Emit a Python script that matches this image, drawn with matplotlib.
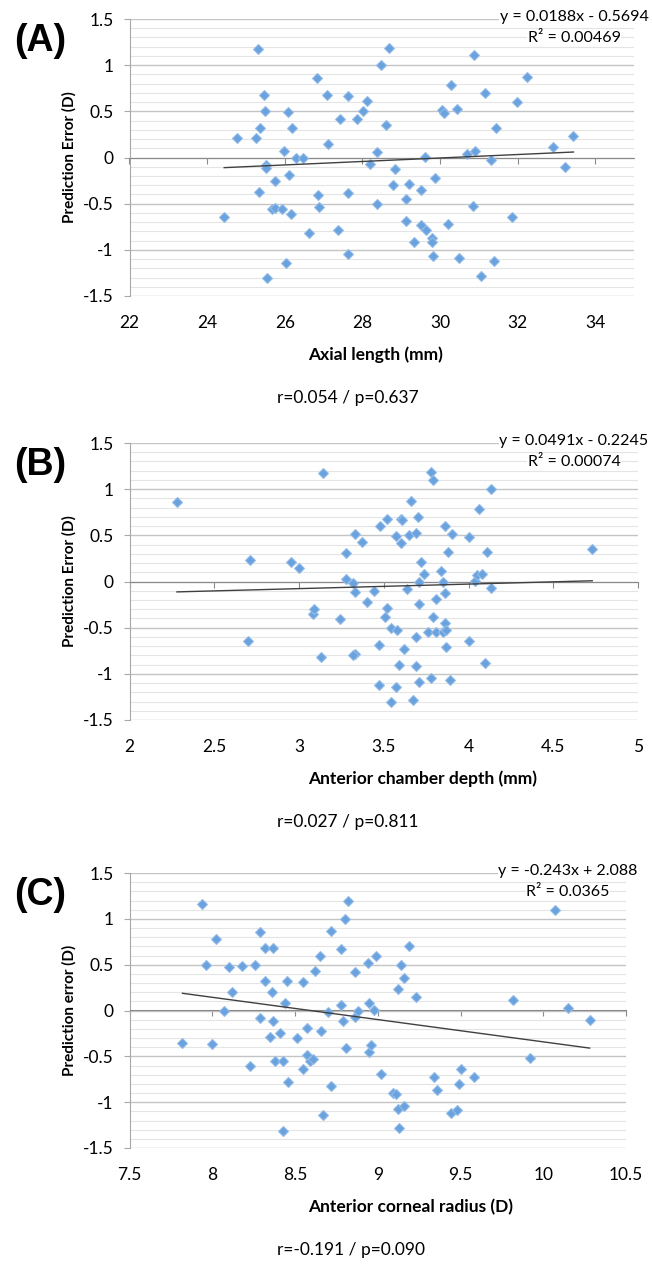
import numpy as np
import matplotlib
matplotlib.use('Agg')
import matplotlib.pyplot as plt
from matplotlib.ticker import MultipleLocator, FuncFormatter

plt.rcParams['font.family'] = ['Lato', 'DejaVu Sans']

# Данные
axial_length = [24.44, 24.78, 25.30, 25.27, 25.35, 25.34, 25.47, 25.48, 25.52, 25.51,
                25.54, 25.68, 25.74, 25.75, 25.94, 25.97, 26.03, 26.08, 26.12, 26.16,
                26.19, 26.30, 26.48, 26.62, 26.82, 26.86, 26.89, 27.09, 27.11, 27.36,
                27.42, 27.62, 27.62, 27.63, 27.85, 28.02, 28.11, 28.20, 28.38, 28.38,
                28.47, 28.61, 28.68, 28.79, 28.83, 29.12, 29.13, 29.21, 29.33, 29.52,
                29.52, 29.62, 29.65, 29.79, 29.79, 29.82, 29.87, 30.05, 30.10, 30.21,
                30.29, 30.43, 30.49, 30.69, 30.85, 30.88, 30.90, 31.07, 31.17, 31.31,
                31.39, 31.45, 31.85, 31.99, 32.23, 32.90, 33.22, 33.44]
error_a = [-0.645, 0.21, 1.17, 0.21, 0.32, -0.37, 0.68, 0.50, -0.08, -0.11,
           -1.31, -0.56, -0.55, -0.25, -0.56, 0.07, -1.14, 0.49, -0.19, -0.61,
           0.32, 0.0, 0.0, -0.82, 0.86, -0.41, -0.54, 0.68, 0.145, -0.78,
           0.42, -0.38, -1.05, 0.67, 0.42, 0.50, 0.61, -0.07, 0.06, -0.50,
           1.00, 0.355, 1.19, -0.30, -0.12, -0.445, -0.69, -0.29, -0.91, -0.35,
           -0.73, 0.007, -0.79, -0.87, -0.91, -1.07, -0.225, 0.51, 0.48, -0.72,
           0.78, 0.52, -1.09, 0.036, -0.525, 1.11, 0.07, -1.28, 0.70, -0.03,
           -1.12, 0.32, -0.64, 0.605, 0.87, 0.11, -0.10, 0.23]

acd = [2.28, 2.70, 2.71, 2.95, 3.00, 3.08, 3.09, 3.13, 3.14, 3.24,
       3.28, 3.28, 3.32, 3.33, 3.33, 3.33, 3.32, 3.37, 3.40, 3.44,
       3.47, 3.47, 3.48, 3.51, 3.52, 3.52, 3.54, 3.54, 3.57, 3.57,
       3.58, 3.59, 3.60, 3.60, 3.61, 3.62, 3.64, 3.65, 3.66, 3.67,
       3.69, 3.69, 3.69, 3.70, 3.71, 3.71, 3.71, 3.72, 3.74, 3.76,
       3.78, 3.78, 3.79, 3.79, 3.81, 3.81, 3.84, 3.85, 3.85, 3.86,
       3.86, 3.86, 3.87, 3.87, 3.88, 3.89, 3.90, 4.00, 4.00, 4.04,
       4.05, 4.06, 4.08, 4.10, 4.11, 4.13, 4.13, 4.73]
error_b = [0.86, -0.64, 0.23, 0.21, 0.15, -0.35, -0.30, -0.82, 1.17, -0.41,
           0.31, 0.03, -0.02, 0.51, -0.11, -0.78, -0.80, 0.43, -0.22, -0.10,
           -0.69, -1.12, 0.60, -0.38, -0.29, 0.68, -0.50, -1.31, 0.49, -1.14,
           -0.52, -0.90, 0.42, 0.68, 0.67, -0.73, -0.08, 0.50, 0.87, -1.28,
           0.52, -0.60, -0.91, 0.70, 0.00, -0.24, -1.09, 0.21, 0.08, -0.55,
           -1.05, 1.19, 1.10, -0.38, -0.19, -0.55, 0.11, 0.00, -0.55, 0.60,
           -0.12, -0.45, -0.53, -0.71, 0.32, -1.07, 0.51, 0.48, -0.64, 0.01,
           0.07, 0.785, 0.08, -0.88, 0.32, 1.00, -0.07, 0.35]

corneal_radius = [7.82, 7.94, 7.96, 8.00, 8.02, 8.07, 8.10, 8.12, 8.18, 8.23,
                  8.26, 8.29, 8.29, 8.32, 8.32, 8.35, 8.36, 8.37, 8.37, 8.38,
                  8.41, 8.43, 8.43, 8.44, 8.45, 8.46, 8.51, 8.55, 8.55, 8.57,
                  8.57, 8.59, 8.61, 8.62, 8.65, 8.66, 8.67, 8.70, 8.72, 8.72,
                  8.78, 8.78, 8.79, 8.80, 8.81, 8.82, 8.86, 8.86, 8.88, 8.94,
                  8.95, 8.95, 8.96, 8.98, 8.99, 9.02, 9.09, 9.11, 9.12, 9.12,
                  9.13, 9.14, 9.16, 9.16, 9.19, 9.23, 9.34, 9.36, 9.44, 9.48,
                  9.49, 9.50, 9.58, 9.82, 9.92, 10.07, 10.15, 10.28]
error_c = [-0.35, 1.165, 0.50, -0.37, 0.78, 0.00, 0.47, 0.20, 0.485, -0.60,
           0.50, 0.86, -0.08, 0.68, 0.32, -0.29, 0.20, -0.11, 0.68, -0.55,
           -0.24, -1.31, -0.55, 0.08, 0.32, -0.78, -0.30, 0.31, -0.64, -0.49,
           -0.19, -0.55, -0.53, 0.43, 0.60, -0.22, -1.14, -0.02, 0.87, -0.82,
           0.67, 0.06, -0.11, 0.995, -0.41, 1.19, 0.42, -0.07, 0.00, 0.52,
           0.08, -0.45, -0.38, 0.01, 0.60, -0.69, -0.905, -0.91, 0.23, -1.07,
           -1.28, 0.50, 0.355, -1.04, 0.70, 0.15, -0.72, -0.87, -1.12, -1.09,
           -0.80, -0.64, -0.72, 0.11, -0.52, 1.10, 0.03, -0.10]

# коэффициенты линий тренда (из подписей)
trend_a = (0.0188, -0.5694)
trend_b = (0.0491, -0.2245)
trend_c = (-0.243, 2.088)

W, H = 652, 1264
fig = plt.figure(figsize=(W / 100, H / 100), dpi=100)


def px(x, y):
    return x / W, 1 - y / H


def panel(box, x, y, trend, xlim, xstep, letter, eq, r2, ylab, xlab, stats,
          eq_x, top):
    left, right, ytop, ybot = box
    ax = fig.add_axes([left / W, 1 - ybot / H, (right - left) / W, (ybot - ytop) / H])
    ax.set_xlim(*xlim)
    ax.set_ylim(-1.5, 1.5)
    ax.yaxis.set_major_locator(MultipleLocator(0.5))
    ax.yaxis.set_minor_locator(MultipleLocator(0.1))
    ax.xaxis.set_major_locator(MultipleLocator(xstep))
    ax.yaxis.set_major_formatter(FuncFormatter(lambda v, p: '{:g}'.format(round(v, 2))))
    ax.xaxis.set_major_formatter(FuncFormatter(
        lambda v, p: '{:g}'.format(round(v, 2)) if v <= xlim[0] + xstep * int((xlim[1] - xlim[0]) / xstep + 1e-6) + 1e-9 else ''))
    ax.grid(axis='y', which='major', color='#c4c4c4', lw=1.0)
    ax.grid(axis='y', which='minor', color='#e4e4e4', lw=0.8)
    ax.set_axisbelow(True)
    for s in ['right', 'bottom']:
        ax.spines[s].set_visible(False)
    ax.spines['left'].set_color('#a8a8a8')
    ax.spines['top'].set_position(('data', 0))
    ax.spines['top'].set_color('#8a8a8a')
    ax.tick_params(axis='x', direction='in', length=4, top=True, bottom=False,
                   labeltop=False, labelbottom=True, pad=14, color='#8a8a8a',
                   labelsize=12.5)
    ax.tick_params(axis='y', which='major', direction='out', length=4.5, color='#a8a8a8',
                   pad=7, labelsize=12.5)
    ax.tick_params(axis='y', which='minor', length=0)

    ax.plot(x, y, ls='none', marker='D', ms=5.2, mfc='#6aa2de', mec='#94bce8',
            mew=0.8, zorder=3)
    xx = np.array([min(x), max(x)])
    ax.plot(xx, trend[0] * xx + trend[1], color='#404040', lw=1.0, zorder=4)

    box_kw = dict(fc='white', ec='none', pad=0.6)
    fig.text(*px(40, top + 22), letter, fontsize=27, fontweight='bold',
             family=['Liberation Sans', 'DejaVu Sans'], ha='center', va='center')
    fig.text(*px(eq_x, top - 2), eq, fontsize=11.5, ha='center', va='center',
             bbox=box_kw)
    fig.text(*px(eq_x, top + 19), r2, fontsize=11.5, ha='center', va='center',
             bbox=box_kw)
    fig.text(*px(69, (ytop + ybot) / 2), ylab, fontsize=11, fontweight='bold',
             rotation=90, ha='center', va='center')
    fig.text(*px(308, ybot + 59), xlab, fontsize=12.5, fontweight='bold',
             ha='left', va='center')
    fig.text(*px(277, ybot + 102), stats, fontsize=12.5, ha='left', va='center')
    return ax


panel((129.5, 634, 19, 296), axial_length, error_a, trend_a, (22, 35), 2, '(A)',
      'y = 0.0188x - 0.5694', 'R² = 0.00469', 'Prediction Error (D)',
      'Axial length (mm)', 'r=0.054 / p=0.637', 574, 19)
panel((129.5, 638, 443, 720), acd, error_b, trend_b, (2, 5), 0.5, '(B)',
      'y = 0.0491x - 0.2245', 'R² = 0.00074', 'Prediction Error (D)',
      'Anterior chamber depth (mm)', 'r=0.027 / p=0.811', 574, 443)
panel((129.5, 626, 873, 1148), corneal_radius, error_c, trend_c, (7.5, 10.5), 0.5, '(C)',
      'y = -0.243x + 2.088', 'R² = 0.0365', 'Prediction error (D)',
      'Anterior corneal radius (D)', 'r=-0.191 / p=0.090', 568, 873)

fig.savefig('out.png', dpi=100)
